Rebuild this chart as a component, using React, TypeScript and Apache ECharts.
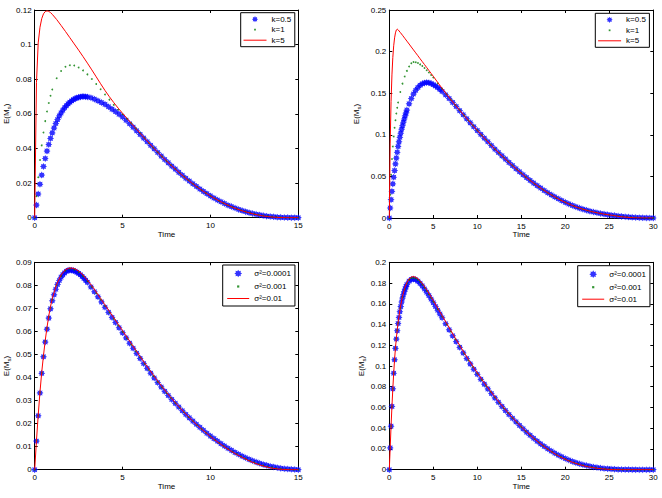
import React, { useEffect, useRef } from "react";
import * as echarts from "echarts";

// Time grids: 0–15 (left column) and 0–30 (right column)
const timeShort = [
  0, 0.1, 0.2, 0.3, 0.4, 0.5, 0.6, 0.7, 0.8, 0.9, 1,
  1.25, 1.5, 1.75, 2, 2.25, 2.5, 2.75, 3, 3.25, 3.5, 3.75, 4, 4.25, 4.5, 4.75, 5,
  5.25, 5.5, 5.75, 6, 6.25, 6.5, 6.75, 7, 7.25, 7.5, 7.75, 8,
  8.25, 8.5, 8.75, 9, 9.25, 9.5, 9.75, 10, 10.25, 10.5, 10.75, 11, 11.25, 11.5, 11.75, 12,
  12.25, 12.5, 12.75, 13, 13.25, 13.5, 13.75, 14, 14.25, 14.5, 14.75, 15,
];
const timeLong = [
  0, 0.1, 0.2, 0.3, 0.4, 0.5, 0.6, 0.7, 0.8, 0.9, 1,
  1.25, 1.5, 1.75, 2, 2.25, 2.5, 2.75, 3, 3.25, 3.5, 3.75, 4, 4.25, 4.5, 4.75, 5,
  5.5, 6, 6.5, 7, 7.5, 8, 8.5, 9, 9.5, 10, 10.5, 11, 11.5, 12, 12.5, 13, 13.5, 14, 14.5, 15,
  15.5, 16, 16.5, 17, 17.5, 18, 18.5, 19, 19.5, 20, 20.5, 21, 21.5, 22, 22.5, 23, 23.5, 24, 24.5, 25,
  25.5, 26, 26.5, 27, 27.5, 28, 28.5, 29, 29.5, 30,
];
// Denser sampling for the star-marked series
const starTimeShort = [
  0, 0.1, 0.2, 0.3, 0.4, 0.5, 0.6, 0.7, 0.8, 0.9, 1, 1.1, 1.2, 1.3, 1.4, 1.5, 1.6, 1.7, 1.8, 1.9, 2,
  2.1, 2.2, 2.3, 2.4, 2.5, 2.6, 2.7, 2.8, 2.9, 3,
  3.2, 3.4, 3.6, 3.8, 4, 4.2, 4.4, 4.6, 4.8, 5, 5.2, 5.4, 5.6, 5.8, 6, 6.2, 6.4, 6.6, 6.8, 7,
  7.2, 7.4, 7.6, 7.8, 8, 8.2, 8.4, 8.6, 8.8, 9, 9.2, 9.4, 9.6, 9.8, 10, 10.2, 10.4, 10.6, 10.8, 11,
  11.2, 11.4, 11.6, 11.8, 12, 12.2, 12.4, 12.6, 12.8, 13, 13.2, 13.4, 13.6, 13.8, 14, 14.2, 14.4, 14.6, 14.8, 15,
];
const starTimeLong = [
  0, 0.1, 0.2, 0.3, 0.4, 0.5, 0.6, 0.7, 0.8, 0.9, 1, 1.1, 1.2, 1.3, 1.4, 1.5, 1.6, 1.7, 1.8, 1.9, 2,
  2.25, 2.5, 2.75, 3, 3.25, 3.5, 3.75, 4, 4.25, 4.5, 4.75, 5, 5.25, 5.5, 5.75, 6,
  6.4, 6.8, 7.2, 7.6, 8, 8.4, 8.8, 9.2, 9.6, 10, 10.4, 10.8, 11.2, 11.6, 12, 12.4, 12.8, 13.2, 13.6, 14,
  14.4, 14.8, 15.2, 15.6, 16, 16.4, 16.8, 17.2, 17.6, 18, 18.4, 18.8, 19.2, 19.6, 20, 20.4, 20.8, 21.2, 21.6, 22,
  22.4, 22.8, 23.2, 23.6, 24, 24.4, 24.8, 25.2, 25.6, 26, 26.4, 26.8, 27.2, 27.6, 28, 28.4, 28.8, 29.2, 29.6, 30,
];

const kLabels = ["k=0.5", "k=1", "k=5"];
const sigmaLabels = ["σ²=0.0001", "σ²=0.001", "σ²=0.01"];

// Top-left: E(M_s) over 0–15 for k = 0.5 (star grid), 1, 5
const shortK05 = [
  0, 0.0073, 0.0137, 0.0193, 0.0246, 0.0296, 0.0342, 0.0385, 0.0423, 0.0458, 0.049,
  0.0518, 0.0544, 0.0567, 0.0588, 0.0605, 0.0621, 0.0635, 0.0647, 0.0658, 0.0667,
  0.0675, 0.0682, 0.0688, 0.0692, 0.0696, 0.0698, 0.07, 0.07, 0.0699, 0.0698,
  0.0693, 0.0685, 0.0675, 0.0665, 0.0655, 0.0641, 0.0627, 0.0613, 0.0598, 0.0582,
  0.0563, 0.0543, 0.0523, 0.0502, 0.0481, 0.046, 0.0439, 0.0418, 0.0398, 0.0377,
  0.0356, 0.0336, 0.0317, 0.0298, 0.0281, 0.0262, 0.0245, 0.0228, 0.0212, 0.0196,
  0.0181, 0.0166, 0.0152, 0.0139, 0.0126, 0.0114, 0.0102, 0.0092, 0.0082, 0.0072,
  0.0064, 0.0056, 0.0048, 0.0041, 0.0035, 0.0029, 0.0024, 0.002, 0.0016, 0.0012,
  0.0009, 0.0007, 0.0005, 0.0003, 0.0002, 0.0001, 0.00006, 0.00003, 0.00001, 0,
];
const shortK1 = [
  0, 0.0124, 0.0234, 0.0333, 0.0418, 0.0492, 0.0558, 0.0614, 0.0663, 0.0705, 0.0741,
  0.0806, 0.0848, 0.0872, 0.0881, 0.0879, 0.0868, 0.0851, 0.0828, 0.0801, 0.0772, 0.0742, 0.0712, 0.0682, 0.0652, 0.0624, 0.0598,
  0.0572, 0.0545, 0.0516, 0.0488, 0.046, 0.0432, 0.0405, 0.0378, 0.0353, 0.0328, 0.0304, 0.0281,
  0.0258, 0.0236, 0.0216, 0.0196, 0.0177, 0.0159, 0.0142, 0.0126, 0.0111, 0.0097, 0.0084, 0.0072, 0.0062, 0.0052, 0.0043, 0.0035,
  0.0028, 0.0022, 0.0017, 0.0012, 0.0009, 0.0006, 0.0004, 0.0002, 0.0001, 0.00005, 0.00002, 0,
];
const shortK5 = [
  0, 0.078, 0.101, 0.11, 0.115, 0.1178, 0.1191, 0.1195, 0.1192, 0.1185, 0.1175,
  0.1145, 0.1111, 0.1076, 0.104, 0.1004, 0.0968, 0.0931, 0.0893, 0.0854, 0.0814, 0.0774, 0.0735, 0.0699, 0.0665, 0.0633, 0.0603,
  0.0574, 0.0545, 0.0516, 0.0488, 0.046, 0.0432, 0.0405, 0.0378, 0.0353, 0.0328, 0.0304, 0.0281,
  0.0258, 0.0236, 0.0216, 0.0196, 0.0177, 0.0159, 0.0142, 0.0126, 0.0111, 0.0097, 0.0084, 0.0072, 0.0061, 0.0051, 0.0042, 0.0034,
  0.0027, 0.002, 0.0015, 0.001, 0.0007, 0.0004, 0.0002, 0.0001, 0, 0, 0, 0,
];

// Top-right: E(M_s) over 0–30 for k = 0.5 (star grid), 1, 5
const longK05 = [
  0, 0.012, 0.022, 0.032, 0.041, 0.049, 0.057, 0.065, 0.072, 0.079, 0.086,
  0.0915, 0.097, 0.102, 0.1067, 0.111, 0.1151, 0.119, 0.1228, 0.1263, 0.1297,
  0.1372, 0.1436, 0.149, 0.1534, 0.1569, 0.1596, 0.1614, 0.1624, 0.1628, 0.1625, 0.1617, 0.1603, 0.1587, 0.1568, 0.1546, 0.1522,
  0.148, 0.1436, 0.1389, 0.134, 0.129, 0.1241, 0.1192, 0.1144, 0.1097, 0.1051,
  0.1005, 0.096, 0.0916, 0.0872, 0.0828, 0.0787, 0.0747, 0.0708, 0.0668, 0.063,
  0.0592, 0.0556, 0.052, 0.0486, 0.0452, 0.042, 0.0389, 0.036, 0.0331, 0.0304,
  0.0278, 0.0254, 0.0231, 0.0209, 0.0188, 0.0169, 0.0151, 0.0134, 0.0119, 0.0106,
  0.0094, 0.0082, 0.0072, 0.0063, 0.0054, 0.0047, 0.004, 0.0034, 0.0029, 0.0024,
  0.0019, 0.0015, 0.0011, 0.0008, 0.0006, 0.0004, 0.0002, 0.0001, 0.00003, 0,
];
const longK1 = [
  0, 0.028, 0.052, 0.071, 0.086, 0.098, 0.1085, 0.1175, 0.1255, 0.1325, 0.1388,
  0.1515, 0.1615, 0.17, 0.1768, 0.182, 0.186, 0.1875, 0.1872, 0.1862, 0.1846, 0.1826, 0.1802, 0.1776, 0.1748, 0.1718, 0.1688,
  0.162, 0.1553, 0.1487, 0.1422, 0.1358, 0.1295, 0.1233, 0.1172, 0.1112, 0.1053, 0.0995, 0.0938, 0.0882, 0.0828, 0.0777, 0.0727, 0.0678, 0.063, 0.0583, 0.0538,
  0.0494, 0.0452, 0.0412, 0.0374, 0.0338, 0.0304, 0.0272, 0.0242, 0.0214, 0.0188, 0.0164, 0.0142, 0.0123, 0.0106, 0.0091, 0.0077, 0.0065, 0.0054, 0.0045, 0.0037,
  0.003, 0.0024, 0.0018, 0.0013, 0.0009, 0.0006, 0.0003, 0.0001, 0.00005, 0,
];
const longK5 = [
  0, 0.09, 0.14, 0.172, 0.193, 0.207, 0.2165, 0.2225, 0.226, 0.227, 0.2262,
  0.223, 0.2196, 0.2161, 0.2126, 0.2091, 0.2055, 0.202, 0.1985, 0.195, 0.1914, 0.1879, 0.1844, 0.1809, 0.1773, 0.1738, 0.1703,
  0.163, 0.1558, 0.1489, 0.1422, 0.1358, 0.1295, 0.1233, 0.1172, 0.1112, 0.1053, 0.0995, 0.0938, 0.0882, 0.0828, 0.0777, 0.0727, 0.0678, 0.063, 0.0583, 0.0538,
  0.0494, 0.0452, 0.0412, 0.0374, 0.0338, 0.0304, 0.0272, 0.0242, 0.0214, 0.0188, 0.0164, 0.0142, 0.0123, 0.0106, 0.0091, 0.0077, 0.0065, 0.0054, 0.0045, 0.0037,
  0.003, 0.002, 0.0014, 0.0009, 0.0005, 0.0002, 0.0001, 0, 0, 0,
];

// Bottom-left: E(M_s) over 0–15 for σ² = 0.0001 (star grid), 0.001, 0.01
const shortS4 = [
  0, 0.0124, 0.0234, 0.0333, 0.0418, 0.049, 0.0554, 0.061, 0.0658, 0.0698, 0.0733,
  0.0759, 0.0783, 0.0804, 0.0821, 0.0835, 0.0846, 0.0854, 0.0861, 0.0865, 0.0866,
  0.0866, 0.0864, 0.0861, 0.0857, 0.0852, 0.0846, 0.0839, 0.0831, 0.0822, 0.0813,
  0.0793, 0.0772, 0.075, 0.0728, 0.0705, 0.0683, 0.0661, 0.0639, 0.0616, 0.0594,
  0.0572, 0.0549, 0.0527, 0.0505, 0.0483, 0.0461, 0.044, 0.0419, 0.0398, 0.0378,
  0.0359, 0.034, 0.0322, 0.0305, 0.0288, 0.0272, 0.0256, 0.024, 0.0225, 0.0211,
  0.0197, 0.0184, 0.0171, 0.0158, 0.0146, 0.0135, 0.0124, 0.0113, 0.0103, 0.0093,
  0.0084, 0.0075, 0.0067, 0.0059, 0.0052, 0.0045, 0.0039, 0.0033, 0.0028, 0.0023,
  0.0019, 0.0015, 0.0012, 0.0009, 0.0006, 0.0004, 0.0003, 0.0002, 0.0001, 0,
];
const shortS3 = [
  0, 0.0125, 0.0235, 0.0335, 0.042, 0.0493, 0.0557, 0.0614, 0.0662, 0.0703, 0.0738,
  0.08, 0.084, 0.0863, 0.0871, 0.0868, 0.0857, 0.084, 0.0818, 0.0793, 0.0766, 0.0738, 0.071, 0.0682, 0.0654, 0.0626, 0.0598,
  0.057, 0.0542, 0.0514, 0.0487, 0.046, 0.0433, 0.0407, 0.0381, 0.0357, 0.0333, 0.0311, 0.0289,
  0.0269, 0.0249, 0.0229, 0.0211, 0.0193, 0.0176, 0.016, 0.0145, 0.013, 0.0116, 0.0103, 0.0091, 0.0079, 0.0068, 0.0058, 0.0049,
  0.004, 0.0032, 0.0025, 0.0019, 0.0014, 0.001, 0.0006, 0.0004, 0.0002, 0.0001, 0, 0,
];
const shortS2 = [
  0, 0.0126, 0.0237, 0.0337, 0.0423, 0.0496, 0.0561, 0.0618, 0.0667, 0.0708, 0.0743,
  0.0805, 0.0845, 0.0868, 0.0876, 0.0873, 0.0862, 0.0845, 0.0823, 0.0798, 0.0771, 0.0743, 0.0715, 0.0687, 0.0659, 0.0631, 0.0603,
  0.0575, 0.0547, 0.0519, 0.0491, 0.0464, 0.0437, 0.0411, 0.0385, 0.036, 0.0336, 0.0313, 0.0291,
  0.027, 0.025, 0.023, 0.0211, 0.0193, 0.0176, 0.016, 0.0144, 0.0129, 0.0115, 0.0102, 0.0089, 0.0077, 0.0066, 0.0056, 0.0046,
  0.0037, 0.0029, 0.0022, 0.0016, 0.0011, 0.0007, 0.0004, 0.0002, 0.0001, 0, 0, 0,
];

// Bottom-right: E(M_s) over 0–30 for σ² = 0.0001 (star grid), 0.001, 0.01
const longS4 = [
  0, 0.021, 0.042, 0.061, 0.078, 0.093, 0.106, 0.117, 0.126, 0.134, 0.141,
  0.1468, 0.1523, 0.1573, 0.1617, 0.1655, 0.1688, 0.1717, 0.1742, 0.1764, 0.1785,
  0.1818, 0.1835, 0.1838, 0.1832, 0.1818, 0.1797, 0.1772, 0.1743, 0.1712, 0.1679, 0.1645, 0.161, 0.1574, 0.1538, 0.1501, 0.1465,
  0.1407, 0.1349, 0.1291, 0.1235, 0.118, 0.1126, 0.1072, 0.102, 0.0969, 0.092,
  0.0872, 0.0825, 0.0779, 0.0735, 0.0692, 0.065, 0.061, 0.057, 0.0532, 0.0496,
  0.0461, 0.0427, 0.0394, 0.0362, 0.0332, 0.0303, 0.0275, 0.0249, 0.0225, 0.0202,
  0.018, 0.016, 0.0141, 0.0124, 0.0108, 0.0094, 0.008, 0.0068, 0.0057, 0.0048,
  0.004, 0.0033, 0.0026, 0.0021, 0.0016, 0.0012, 0.0009, 0.0007, 0.0005, 0.0003,
  0.0002, 0.0001, 0.0001, 0.00005, 0.00002, 0, 0, 0, 0, 0,
];
const longS3 = [
  0, 0.021, 0.042, 0.061, 0.078, 0.093, 0.1062, 0.1172, 0.1264, 0.1345, 0.1415,
  0.1558, 0.1663, 0.174, 0.1795, 0.1829, 0.1846, 0.185, 0.1844, 0.183, 0.1809, 0.1783, 0.1754, 0.1723, 0.169, 0.1656, 0.1621,
  0.1548, 0.1475, 0.1402, 0.133, 0.1258, 0.1189, 0.112, 0.1054, 0.099, 0.0927, 0.0866, 0.0808, 0.0751, 0.0697, 0.0644, 0.0594, 0.0546, 0.0499, 0.0455, 0.0412,
  0.0371, 0.0333, 0.0296, 0.0262, 0.023, 0.02, 0.0172, 0.0147, 0.0124, 0.0104, 0.0086, 0.007, 0.0056, 0.0044, 0.0034, 0.0025, 0.0018, 0.0013, 0.0008, 0.0005,
  0.0003, 0.0001, 0.0001, 0, 0, 0, 0, 0, 0, 0,
];
const longS2 = [
  0, 0.021, 0.042, 0.061, 0.078, 0.093, 0.1065, 0.1175, 0.1268, 0.135, 0.142,
  0.1565, 0.1672, 0.175, 0.1805, 0.184, 0.1858, 0.1862, 0.1856, 0.1842, 0.1821, 0.1795, 0.1766, 0.1735, 0.1702, 0.1667, 0.1632,
  0.1559, 0.1486, 0.1413, 0.134, 0.1268, 0.1198, 0.1129, 0.1062, 0.0997, 0.0934, 0.0873, 0.0814, 0.0757, 0.0702, 0.0649, 0.0598, 0.0549, 0.0502, 0.0457, 0.0414,
  0.0373, 0.0334, 0.0297, 0.0262, 0.0229, 0.0198, 0.017, 0.0144, 0.0121, 0.01, 0.0082, 0.0066, 0.0052, 0.004, 0.003, 0.0022, 0.0015, 0.001, 0.0006, 0.0003,
  0.0001, 0, 0, 0, 0, 0, 0, 0, 0, 0,
];

const FONT = "'Liberation Sans', Arial, Helvetica, sans-serif";
const STAR_SHAPE =
  "M10 5L7.96 3.78L8.54 1.46L6.22 2.04L5 0L3.78 2.04L1.46 1.46L2.04 3.78L0 5L2.04 6.22L1.46 8.54L3.78 7.96L5 10L6.22 7.96L8.54 8.54L7.96 6.22Z";
const STAR = "path://" + STAR_SHAPE;
// legend icons carry empty move-to points so the glyph stays small inside its box
const STAR_ICON = "path://M-1.5 -1.5M11.5 11.5" + STAR_SHAPE;
const DOT_ICON = "path://M0 0M10 10M3.9 3.9h2.2v2.2h-2.2z";

const BLUE = "#0000ff";
const GREEN = "#007a00";
const RED = "#ff0000";

type Panel = {
  box: { left: number; top: number; width: number; height: number };
  xMax: number;
  yMax: number;
  yStep: number;
  starTime: number[];
  time: number[];
  names: string[];
  values: number[][];
  legendPos: { left: number; top: number };
  legendRow: { h: number; gap: number; pad: number[]; w: number };
  yNameGap: number;
};

const panels: Panel[] = [
  {
    box: { left: 34.7, top: 10, width: 263.6, height: 207.7 },
    xMax: 15, yMax: 0.12, yStep: 0.02, starTime: starTimeShort, time: timeShort, names: kLabels,
    values: [shortK05, shortK1, shortK5],
    legendPos: { left: 240.7, top: 12.7 },
    legendRow: { h: 8, gap: 2.5, pad: [2.5, 3.5, 2.5, 2.3], w: 23 },
    yNameGap: 22,
  },
  {
    box: { left: 389.3, top: 10, width: 264, height: 208 },
    xMax: 30, yMax: 0.25, yStep: 0.05, starTime: starTimeLong, time: timeLong, names: kLabels,
    values: [longK05, longK1, longK5],
    legendPos: { left: 595.3, top: 13.3 },
    legendRow: { h: 8, gap: 2.5, pad: [2.5, 3.5, 2.5, 2.3], w: 23 },
    yNameGap: 27,
  },
  {
    box: { left: 34.7, top: 262.3, width: 263.6, height: 207.4 },
    xMax: 15, yMax: 0.09, yStep: 0.01, starTime: starTimeShort, time: timeShort, names: sigmaLabels,
    values: [shortS4, shortS3, shortS2],
    legendPos: { left: 222.7, top: 265 },
    legendRow: { h: 10, gap: 3, pad: [3.5, 4, 3.5, 4], w: 22 },
    yNameGap: 23,
  },
  {
    box: { left: 389.3, top: 262.3, width: 264, height: 207.4 },
    xMax: 30, yMax: 0.2, yStep: 0.02, starTime: starTimeLong, time: timeLong, names: sigmaLabels,
    values: [longS4, longS3, longS2],
    legendPos: { left: 577.7, top: 265.7 },
    legendRow: { h: 10, gap: 3, pad: [3.5, 4, 3.5, 4], w: 22 },
    yNameGap: 21,
  },
];

const pairs = (t: number[], v: number[]) => v.map((y, i) => [t[i], y]);

const axisLine = { show: true, onZero: false, lineStyle: { color: "#000", width: 1 } };
const axisTick = { show: true, inside: true, length: 3, lineStyle: { color: "#000", width: 1 } };
const labelStyle = { fontSize: 8, color: "#000", fontFamily: FONT };

function buildOption() {
  const grid: any[] = [];
  const xAxis: any[] = [];
  const yAxis: any[] = [];
  const series: any[] = [];
  const legend: any[] = [];

  panels.forEach((p, i) => {
    grid.push({ ...p.box });
    const xBase = { gridIndex: i, type: "value", min: 0, max: p.xMax, interval: 5, splitLine: { show: false }, axisLine, axisTick };
    const yBase = { gridIndex: i, type: "value", min: 0, max: p.yMax, interval: p.yStep, splitLine: { show: false }, axisLine, axisTick };
    xAxis.push({
      ...xBase,
      position: "bottom",
      axisLabel: { ...labelStyle, margin: 4 },
      name: "Time",
      nameLocation: "middle",
      nameGap: 12,
      nameTextStyle: labelStyle,
    });
    xAxis.push({ ...xBase, position: "top", axisLabel: { show: false } });
    yAxis.push({
      ...yBase,
      position: "left",
      axisLabel: { ...labelStyle, margin: 3 },
      name: "{n|E(M}{s|s}{n|)}",
      nameLocation: "middle",
      nameRotate: 90,
      nameGap: p.yNameGap,
      nameTextStyle: {
        ...labelStyle,
        rich: {
          n: { fontSize: 8, color: "#000", fontFamily: FONT },
          s: { fontSize: 6, color: "#000", fontFamily: FONT, padding: [5, 0, 0, 0] },
        },
      },
    });
    yAxis.push({ ...yBase, position: "right", axisLabel: { show: false } });

    const xi = i * 2;
    series.push({
      type: "scatter",
      name: p.names[0],
      xAxisIndex: xi,
      yAxisIndex: xi,
      symbol: STAR,
      symbolSize: 7,
      itemStyle: { color: BLUE },
      data: pairs(p.starTime, p.values[0]),
      z: 2,
      silent: true,
    });
    series.push({
      type: "scatter",
      name: p.names[1],
      xAxisIndex: xi,
      yAxisIndex: xi,
      symbol: "circle",
      symbolSize: 1.8,
      itemStyle: { color: GREEN },
      data: pairs(p.time, p.values[1]),
      z: 3,
      silent: true,
    });
    series.push({
      type: "line",
      name: p.names[2],
      xAxisIndex: xi,
      yAxisIndex: xi,
      symbol: "circle",
      showSymbol: false,
      lineStyle: { color: RED, width: 1 },
      itemStyle: { color: RED },
      data: pairs(p.time, p.values[2]),
      z: 4,
      silent: true,
    });

    legend.push({
      orient: "vertical",
      left: p.legendPos.left,
      top: p.legendPos.top,
      itemWidth: p.legendRow.w,
      itemHeight: p.legendRow.h,
      itemGap: p.legendRow.gap,
      padding: p.legendRow.pad,
      borderColor: "#000",
      borderWidth: 1,
      backgroundColor: "#fff",
      selectedMode: false,
      textStyle: { fontSize: 8, color: "#000", fontFamily: FONT },
      data: [
        { name: p.names[0], icon: STAR_ICON, itemStyle: { color: BLUE, borderWidth: 0 } },
        { name: p.names[1], icon: DOT_ICON, itemStyle: { color: GREEN, borderWidth: 0 } },
        // plain line sample: the series' own legend glyph with its marker hidden
        {
          name: p.names[2],
          itemStyle: { color: RED, opacity: 0 },
          lineStyle: { color: RED, width: 1, opacity: 1 },
        },
      ],
    });
  });

  return {
    animation: false,
    backgroundColor: "#fff",
    textStyle: { fontFamily: FONT },
    grid,
    xAxis,
    yAxis,
    series,
    legend,
  };
}

export default function App() {
  const ref = useRef<HTMLDivElement>(null);
  useEffect(() => {
    if (!ref.current) return;
    const chart = echarts.init(ref.current, undefined, { renderer: "svg" });
    chart.setOption(buildOption() as any);
    return () => chart.dispose();
  }, []);
  return (
    <div
      ref={ref}
      style={{ position: "absolute", left: 0, top: 0, width: 662, height: 498, background: "#fff" }}
    />
  );
}
